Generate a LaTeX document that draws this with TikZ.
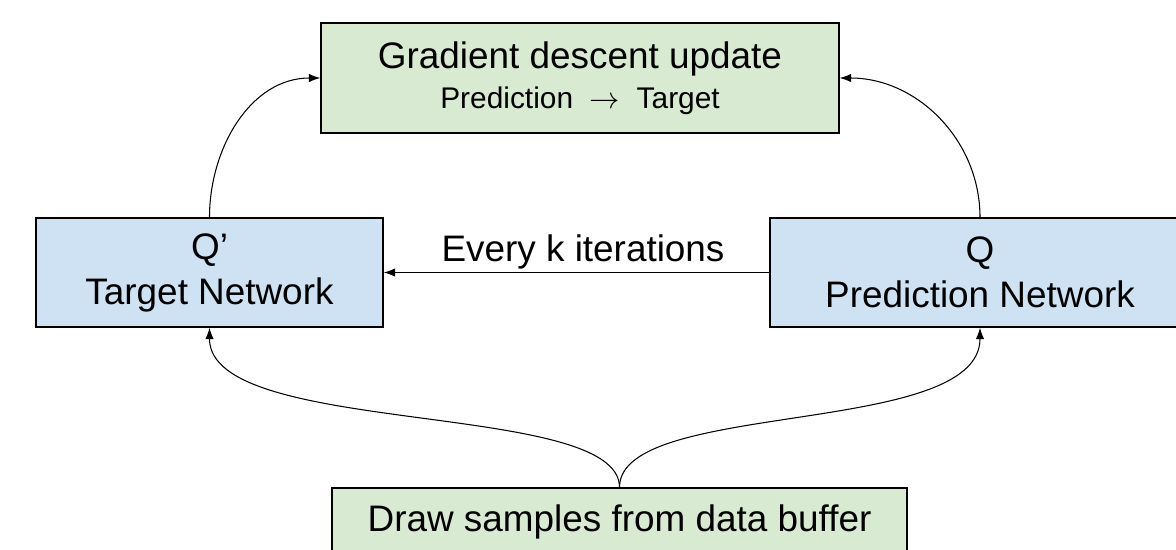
\documentclass[tikz,border=0pt]{standalone}
\usepackage{fontspec}
\setmainfont{Liberation Sans}
\usetikzlibrary{arrows.meta}
\definecolor{boxgreen}{HTML}{D9EAD3}
\definecolor{boxblue}{HTML}{CFE2F3}

\begin{document}
\begin{tikzpicture}[x=0.02cm, y=-0.02cm,
  box/.style={draw=black, line width=0.8pt, inner sep=0pt, align=center,
    font=\fontsize{21}{25.6}\selectfont},
  arr/.style={-{Latex[length=2.3mm,width=1.7mm]}, line width=0.6pt}]
  \useasboundingbox (0,0) rectangle (1176,549);

  \node[box, fill=boxgreen, minimum width=10.36cm, minimum height=2.2cm] (grad) at (580,78)
    {Gradient descent update\\[-3pt]{\fontsize{17}{22}\selectfont Prediction\ \ $\rightarrow$\ \ Target}};
  \node[box, fill=boxblue, minimum width=6.94cm, minimum height=2.18cm] (tnet) at (209.5,272.5)
    {Q’\\Target Network};
  \node[box, fill=boxblue, minimum width=8.4cm, minimum height=2.18cm] (pnet) at (980,272.5)
    {Q\\Prediction Network};
  \node[box, fill=boxgreen, minimum width=11.5cm, minimum height=1.36cm] (buf) at (619.5,522)
    {Draw samples from data buffer};

  % to the update
  \draw[arr] (tnet.north) to[out=90, in=180] (grad.west);
  \draw[arr] (pnet.north) to[out=90, in=0] (grad.east);
  % copy of the weights
  \draw[arr] (pnet.west) -- node[midway, above=1.5pt, inner sep=0pt, xshift=1.3mm,
    font=\fontsize{21}{25.6}\selectfont] (every) {Every k iterations} (tnet.east);
  % samples
  \draw[arr] (buf.north) .. controls +(0,-88) and +(0,110) .. (tnet.south);
  \draw[arr] (buf.north) .. controls +(0,-88) and +(0,110) .. (pnet.south);
\end{tikzpicture}
\end{document}
